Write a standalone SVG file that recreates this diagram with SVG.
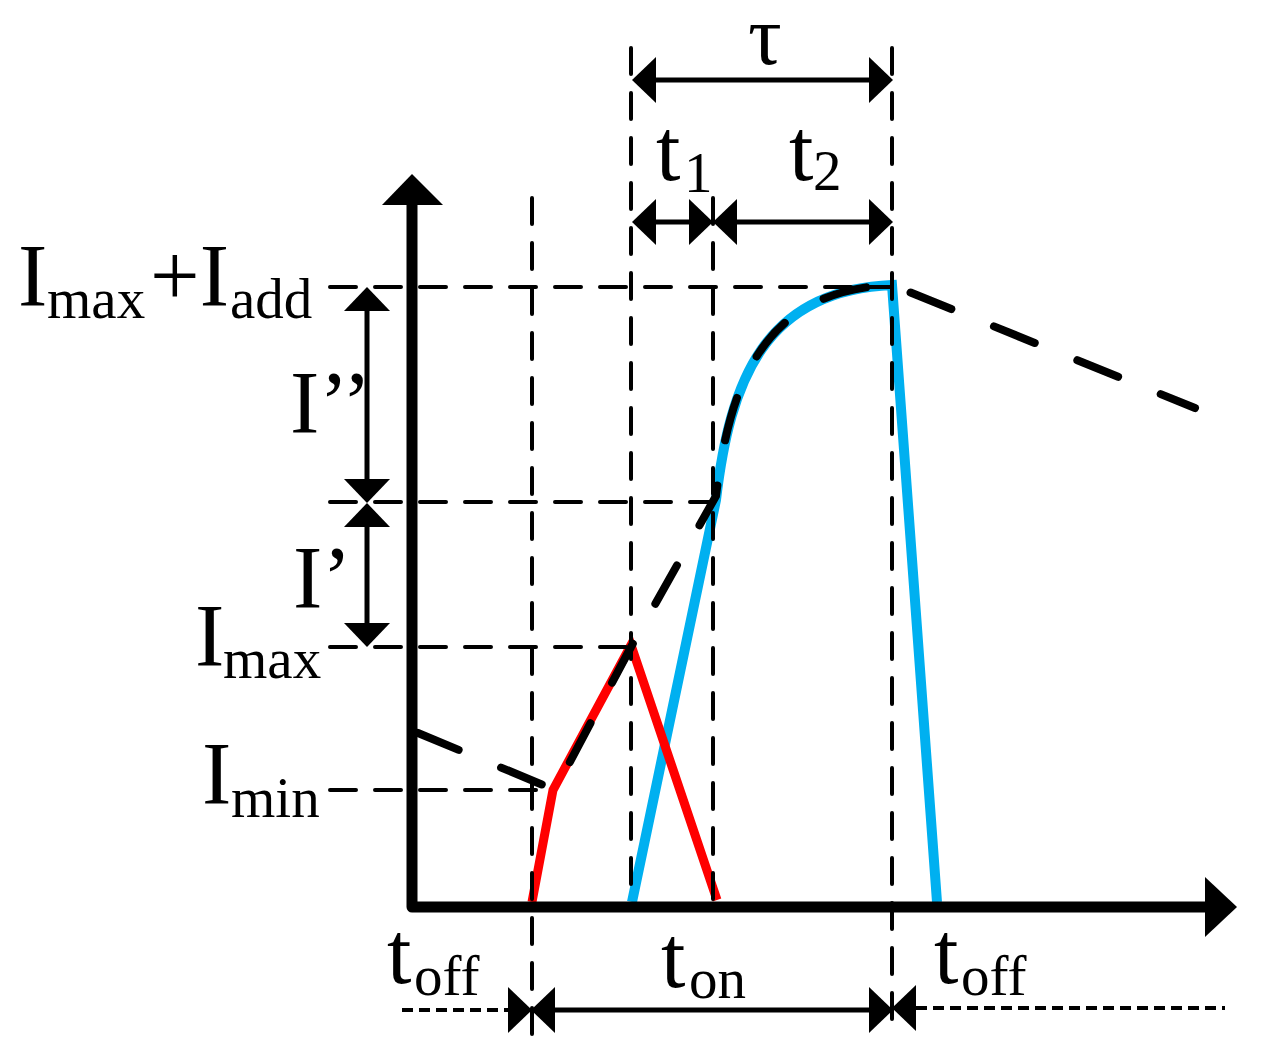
<svg xmlns="http://www.w3.org/2000/svg" width="1262" height="1048" viewBox="0 0 1262 1048">
<defs>
<marker id="ah" viewBox="0 0 24 46" refX="0" refY="23" markerWidth="24" markerHeight="46" markerUnits="userSpaceOnUse" orient="auto-start-reverse"><path d="M0,0 L24,23 L0,46 Z" fill="#000"/></marker>
<style>
.guide{fill:none;stroke:#000;stroke-width:4;stroke-dasharray:26 19;stroke-linecap:round}
.dim{fill:none;stroke:#000;stroke-width:5}
.fine{fill:none;stroke:#000;stroke-width:4;stroke-dasharray:11 6}
.lbl{font-family:"Liberation Serif","Times New Roman",serif;font-size:88px;fill:#000}
.sub{font-size:57px}
</style>
</defs>
<rect width="1262" height="1048" fill="#fff"/>

<g id="curves">
<path id="blue" d="M632 902 L716 500 C730 380 765 290 892 285 L937 902" fill="none" stroke="#00B0F0" stroke-width="10"/>
<path id="red" d="M532 902 L553 790 L631 645 L717 900" fill="none" stroke="#FF0000" stroke-width="9"/>
<path id="envelope" d="M418 733 L555 790 L631 647 L716 496 C730 380 765 290 892 285 L1195 408" fill="none" stroke="#000" stroke-width="8" stroke-linecap="round" stroke-dasharray="44 46"/>
</g>

<g id="axes">
<path d="M412 205 V907 H1206" fill="none" stroke="#000" stroke-width="11" stroke-linejoin="round"/>
<polygon points="412,174 382,205 443,205" fill="#000"/>
<polygon points="1237,907 1205,877 1205,937" fill="#000"/>
</g>

<g id="guides">
<line class="guide" x1="532" y1="198" x2="532" y2="1038"/>
<line class="guide" x1="631" y1="48" x2="631" y2="900"/>
<line class="guide" x1="713" y1="198" x2="713" y2="905"/>
<line class="guide" x1="892" y1="48" x2="892" y2="1038"/>
<line class="guide" x1="330" y1="287" x2="892" y2="287"/>
<line class="guide" x1="330" y1="502" x2="713" y2="502"/>
<line class="guide" x1="330" y1="647" x2="631" y2="647"/>
<line class="guide" x1="330" y1="790" x2="540" y2="790"/>
</g>

<g id="connectors">
<line class="dim" x1="656" y1="80" x2="869" y2="80" marker-start="url(#ah)" marker-end="url(#ah)"/>
<line class="dim" x1="656" y1="222" x2="689" y2="222" marker-start="url(#ah)" marker-end="url(#ah)"/>
<line class="dim" x1="737" y1="222" x2="869" y2="222" marker-start="url(#ah)" marker-end="url(#ah)"/>
<line class="dim" x1="367" y1="311" x2="367" y2="479" marker-start="url(#ah)" marker-end="url(#ah)"/>
<line class="dim" x1="367" y1="527" x2="367" y2="623" marker-start="url(#ah)" marker-end="url(#ah)"/>
<line class="dim" x1="555" y1="1010" x2="869" y2="1010" marker-start="url(#ah)" marker-end="url(#ah)"/>
<line class="fine" x1="402" y1="1010" x2="508" y2="1010" marker-end="url(#ah)"/>
<line class="fine" x1="916" y1="1008" x2="1225" y2="1008" marker-start="url(#ah)"/>
</g>

<g id="labels" class="lbl">
<text id="lbl-imaxadd"><tspan x="18" y="305">I</tspan><tspan class="sub" x="47" y="318">max</tspan><tspan x="150" y="305">+I</tspan><tspan class="sub" x="230" y="318">add</tspan></text>
<text id="lbl-i2" x="290" y="432">I’’</text>
<text id="lbl-i1" x="293" y="607">I’</text>
<text id="lbl-imax"><tspan x="195" y="665">I</tspan><tspan class="sub" x="223" y="678">max</tspan></text>
<text id="lbl-imin"><tspan x="202" y="803">I</tspan><tspan class="sub" x="231" y="817">min</tspan></text>
<text id="lbl-tau" x="765" y="64" text-anchor="middle" font-size="84">τ</text>
<text id="lbl-t1"><tspan x="656" y="180">t</tspan><tspan class="sub" x="684" y="192">1</tspan></text>
<text id="lbl-t2"><tspan x="789" y="180">t</tspan><tspan class="sub" x="813" y="190">2</tspan></text>
<text id="lbl-toff1"><tspan x="387" y="983">t</tspan><tspan class="sub" x="414" y="995">off</tspan></text>
<text id="lbl-ton"><tspan x="661" y="987">t</tspan><tspan class="sub" x="689" y="998">on</tspan></text>
<text id="lbl-toff2"><tspan x="934" y="983">t</tspan><tspan class="sub" x="961" y="995">off</tspan></text>
</g>
</svg>
